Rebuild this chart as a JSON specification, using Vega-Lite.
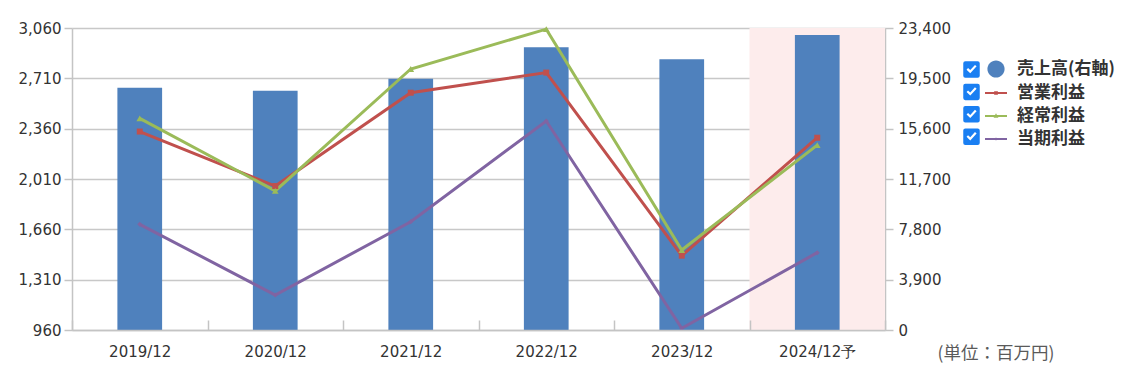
{
  "$schema": "https://vega.github.io/schema/vega-lite/v6.json",
  "width": 813,
  "height": 302,
  "autosize": {"type": "none"},
  "padding": {"left": 72, "top": 28, "right": 243, "bottom": 39},
  "background": "white",
  "config": {
    "view": {"stroke": null},
    "font": "DejaVu Sans",
    "axis": {"labelFont": "DejaVu Sans", "labelFontSize": 15, "labelColor": "#333333", "domainColor": "#c4c4c4", "domainWidth": 1.5, "tickColor": "#c4c4c4", "tickWidth": 1.5, "gridColor": "#c8c8c8", "gridWidth": 1.5},
    "axisBottom": {"labelAngle": 0, "tickBand": "extent", "tickSize": -10, "labelPadding": 24, "titleX": 865, "titleY": 23, "titleAlign": "left", "titleBaseline": "middle", "titleFont": "Noto Sans CJK JP", "titleFontSize": 17.5, "titleFontWeight": "normal", "titleColor": "#5a5a5a"}
  },
  "datasets": {
    "shade": [{"cat": "2024/12予"}],
    "sales": [
      {"cat": "2019/12", "series": "売上高(右軸)", "value": 18780},
      {"cat": "2020/12", "series": "売上高(右軸)", "value": 18540},
      {"cat": "2021/12", "series": "売上高(右軸)", "value": 19470},
      {"cat": "2022/12", "series": "売上高(右軸)", "value": 21900},
      {"cat": "2023/12", "series": "売上高(右軸)", "value": 20980},
      {"cat": "2024/12予", "series": "売上高(右軸)", "value": 22860}
    ],
    "profit": [
      {"cat": "2019/12", "series": "営業利益", "value": 2340},
      {"cat": "2020/12", "series": "営業利益", "value": 1961},
      {"cat": "2021/12", "series": "営業利益", "value": 2610},
      {"cat": "2022/12", "series": "営業利益", "value": 2750},
      {"cat": "2023/12", "series": "営業利益", "value": 1477},
      {"cat": "2024/12予", "series": "営業利益", "value": 2297},
      {"cat": "2019/12", "series": "経常利益", "value": 2432},
      {"cat": "2020/12", "series": "経常利益", "value": 1927},
      {"cat": "2021/12", "series": "経常利益", "value": 2775},
      {"cat": "2022/12", "series": "経常利益", "value": 3052},
      {"cat": "2023/12", "series": "経常利益", "value": 1516},
      {"cat": "2024/12予", "series": "経常利益", "value": 2246},
      {"cat": "2019/12", "series": "当期利益", "value": 1695},
      {"cat": "2020/12", "series": "当期利益", "value": 1203},
      {"cat": "2021/12", "series": "当期利益", "value": 1713},
      {"cat": "2022/12", "series": "当期利益", "value": 2413},
      {"cat": "2023/12", "series": "当期利益", "value": 972},
      {"cat": "2024/12予", "series": "当期利益", "value": 1498}
    ],
    "checks": [{"k": "a"}, {"k": "b"}, {"k": "c"}, {"k": "d"}]
  },
  "layer": [
    {
      "data": {"name": "sales"},
      "transform": [{"filter": "false"}],
      "mark": {"type": "point", "filled": true, "opacity": 1},
      "encoding": {
        "color": {"field": "series", "type": "nominal",
          "scale": {"domain": ["売上高(右軸)", "営業利益", "経常利益", "当期利益"], "range": ["#4f81bd", "#c0504d", "#9bbb59", "#8064a2"]},
          "legend": {"orient": "none", "legendX": 913, "legendY": 30, "title": null, "padding": 0,
            "labelFont": "Noto Sans CJK JP", "labelFontSize": 17, "labelFontWeight": "bold", "labelColor": "#333333",
            "symbolSize": 484, "labelOffset": 10, "rowPadding": 4, "symbolStrokeWidth": 0, "symbolOpacity": 1}},
        "shape": {"field": "series", "type": "nominal",
          "scale": {"domain": ["売上高(右軸)", "営業利益", "経常利益", "当期利益"],
            "range": ["M0.78,0A0.78,0.78 0 1,1 -0.78,0A0.78,0.78 0 1,1 0.78,0Z", "M-1,-0.08H1V0.08H-1Z M-0.17,-0.17H0.17V0.17H-0.17Z", "M-1,-0.08H1V0.08H-1Z M0,-0.24L0.22,0.15L-0.22,0.15Z", "M-1,-0.08H1V0.08H-1Z M0,-0.14L0.14,0L0,0.14L-0.14,0Z"]},
          "legend": {"orient": "none", "legendX": 913, "legendY": 30, "title": null, "padding": 0,
            "labelFont": "Noto Sans CJK JP", "labelFontSize": 17, "labelFontWeight": "bold", "labelColor": "#333333",
            "symbolSize": 484, "labelOffset": 10, "rowPadding": 4, "symbolStrokeWidth": 0, "symbolOpacity": 1}}
      }
    },
    {
      "data": {"name": "shade"},
      "mark": {"type": "rect", "color": "#fdecec"},
      "encoding": {
        "x": {"field": "cat", "type": "nominal", "sort": null, "title": "(単位：百万円)",
          "scale": {"type": "band", "domain": ["2019/12", "2020/12", "2021/12", "2022/12", "2023/12", "2024/12予"], "paddingInner": 0, "paddingOuter": 0}}
      }
    },
    {
      "data": {"name": "sales"},
      "mark": {"type": "bar", "width": {"band": 0.33}},
      "encoding": {
        "x": {"field": "cat", "type": "nominal", "sort": null, "title": "(単位：百万円)"},
        "y": {"field": "value", "type": "quantitative",
          "scale": {"domain": [0, 23400], "nice": false, "zero": true},
          "axis": {"orient": "right", "title": null, "values": [0, 3900, 7800, 11700, 15600, 19500, 23400], "format": ",.0f", "grid": false, "tickSize": 8, "labelPadding": 5}},
        "color": {"field": "series", "type": "nominal"}
      }
    },
    {
      "layer": [
        {
          "data": {"name": "profit"},
          "mark": {"type": "line", "strokeWidth": 3},
          "encoding": {
            "x": {"field": "cat", "type": "nominal", "sort": null, "title": "(単位：百万円)"},
            "y": {"field": "value", "type": "quantitative",
              "scale": {"domain": [960, 3060], "nice": false, "zero": false},
              "axis": {"orient": "left", "title": null, "values": [960, 1310, 1660, 2010, 2360, 2710, 3060], "format": ",.0f", "grid": true, "tickSize": 8, "labelPadding": 3}},
            "color": {"field": "series", "type": "nominal"}
          }
        },
        {
          "data": {"name": "profit"},
          "transform": [{"filter": "datum.series === '営業利益'"}],
          "mark": {"type": "point", "filled": true, "opacity": 1, "size": 36, "shape": "square"},
          "encoding": {
            "x": {"field": "cat", "type": "nominal", "sort": null, "title": "(単位：百万円)"},
            "y": {"field": "value", "type": "quantitative"},
            "color": {"field": "series", "type": "nominal"}
          }
        },
        {
          "data": {"name": "profit"},
          "transform": [{"filter": "datum.series === '経常利益'"}],
          "mark": {"type": "point", "filled": true, "opacity": 1, "size": 45, "shape": "triangle-up"},
          "encoding": {
            "x": {"field": "cat", "type": "nominal", "sort": null, "title": "(単位：百万円)"},
            "y": {"field": "value", "type": "quantitative"},
            "color": {"field": "series", "type": "nominal"}
          }
        },
        {
          "data": {"name": "profit"},
          "transform": [{"filter": "datum.series === '当期利益'"}],
          "mark": {"type": "point", "filled": true, "opacity": 1, "size": 25, "shape": "diamond"},
          "encoding": {
            "x": {"field": "cat", "type": "nominal", "sort": null, "title": "(単位：百万円)"},
            "y": {"field": "value", "type": "quantitative"},
            "color": {"field": "series", "type": "nominal"}
          }
        }
      ]
    },
    {
      "data": {"name": "checks"},
      "transform": [{"filter": "false"}],
      "mark": {"type": "point", "filled": true, "color": "#1a7ff2", "opacity": 1},
      "encoding": {
        "strokeDash": {"field": "k", "type": "nominal",
          "scale": {"domain": ["a", "b", "c", "d"]},
          "legend": {"orient": "none", "legendX": 891, "legendY": 33, "title": null, "padding": 0, "labelExpr": "''",
            "symbolSize": 272, "rowPadding": 5.4, "labelFontSize": 1,
            "symbolType": "M-1,-0.75Q-1,-1 -0.75,-1H0.75Q1,-1 1,-0.75V0.75Q1,1 0.75,1H-0.75Q-1,1 -1,0.75Z M-0.6,0.02L-0.15,0.45L0.62,-0.38L0.42,-0.56L-0.15,0.07L-0.42,-0.17Z",
            "symbolFillColor": "#1a7ff2", "symbolStrokeWidth": 0, "symbolOpacity": 1}}
      }
    }
  ],
  "resolve": {"scale": {"y": "independent"}}
}
